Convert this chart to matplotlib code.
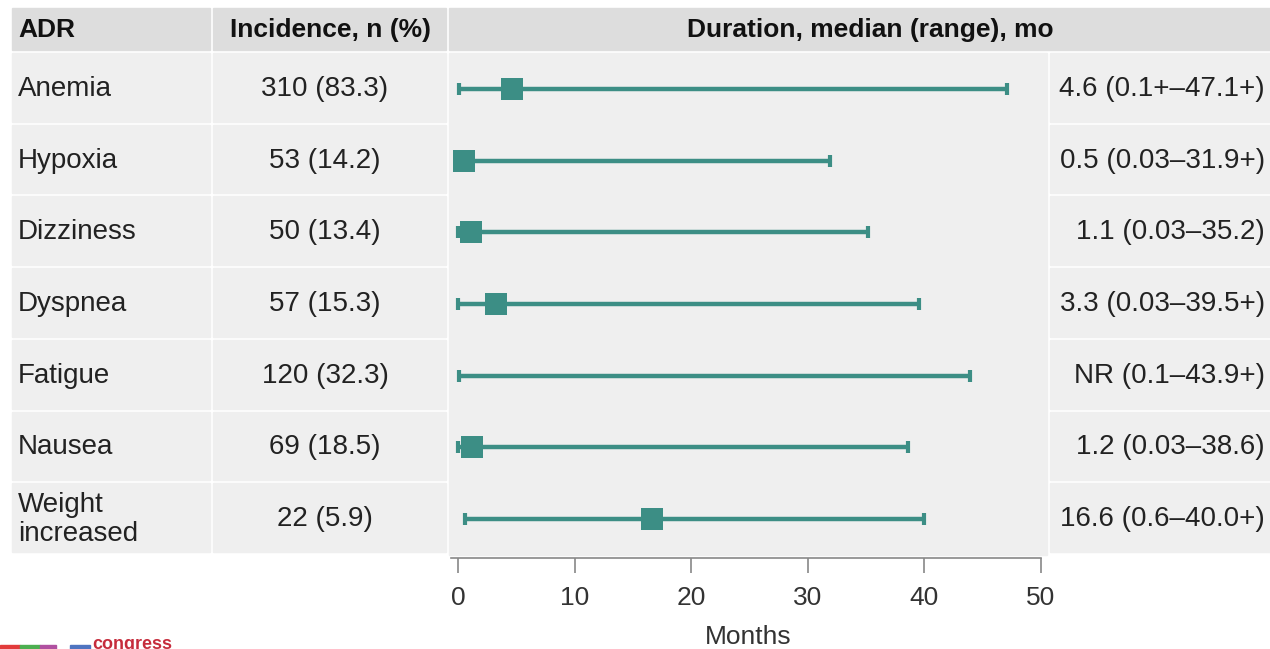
import matplotlib.pyplot as plt
import matplotlib.transforms as mtransforms
from matplotlib.patches import Rectangle
import numpy as np

plt.rcParams['font.family'] = ['Liberation Sans', 'DejaVu Sans']

# ADR duration table
adr_names = ['Anemia', 'Hypoxia', 'Dizziness', 'Dyspnea', 'Fatigue', 'Nausea',
             'Weight\nincreased']
incidence = ['310 (83.3)', '53 (14.2)', '50 (13.4)', '57 (15.3)', '120 (32.3)',
             '69 (18.5)', '22 (5.9)']
median_mo = [4.6, 0.5, 1.1, 3.3, np.nan, 1.2, 16.6]
range_lo = [0.1, 0.03, 0.03, 0.03, 0.1, 0.03, 0.6]
range_hi = [47.1, 31.9, 35.2, 39.5, 43.9, 38.6, 40.0]
duration_labels = ['4.6 (0.1+\u201347.1+)', '0.5 (0.03\u201331.9+)',
                   '1.1 (0.03\u201335.2)', '3.3 (0.03\u201339.5+)',
                   'NR (0.1\u201343.9+)', '1.2 (0.03\u201338.6)',
                   '16.6 (0.6\u201340.0+)']
x_ticks = [0, 10, 20, 30, 40, 50]

W, H = 1270, 649
TEAL = '#3c8e85'
HEAD_BG = '#dddddd'
CELL_BG = '#efefef'
TXT = '#222222'
FS = 19
FS_BODY = 20

fig = plt.figure(figsize=(W / 100, H / 100), dpi=100)


def fx(px):
    return px / W


def fy(py):
    return 1 - py / H


def cell(x0, x1, y0, y1, color):
    # background box in figure pixels, drawn below the axes
    fig.patches.append(Rectangle((fx(x0), fy(y1)), fx(x1) - fx(x0), fy(y0) - fy(y1),
                                 transform=fig.transFigure, color=color, zorder=-1))


# column edges in pixels
c1 = (12, 210)
c2 = (213, 446)
c3 = (449, 1047)
c4 = (1050, 1270)
body_top, body_bot = 53, 555
pitch = (body_bot - body_top) / len(adr_names)

# header
cell(*c1, 8, 50, HEAD_BG)
cell(*c2, 8, 50, HEAD_BG)
cell(c3[0], c4[1], 8, 50, HEAD_BG)
fig.text(fx(18), fy(30), 'ADR', fontsize=FS, fontweight='bold', color='#111111',
         ha='left', va='center')
fig.text(fx(330), fy(30), 'Incidence, n (%)', fontsize=FS, fontweight='bold',
         color='#111111', ha='center', va='center')
fig.text(fx(870), fy(30), 'Duration, median (range), mo', fontsize=FS,
         fontweight='bold', color='#111111', ha='center', va='center')

# body cells, with white gaps between rows
for i in range(len(adr_names)):
    top = body_top + pitch * i
    bot = top + pitch - 3
    cell(*c1, top, bot, CELL_BG)
    cell(*c2, top, bot, CELL_BG)
    cell(*c4, top, bot, CELL_BG)
cell(*c3, body_top, body_bot, CELL_BG)

# forest panel
ax = fig.add_axes([fx(c3[0]), fy(body_bot), fx(c3[1]) - fx(c3[0]),
                   fy(body_top) - fy(body_bot)])
ax.patch.set_alpha(0)
px_per_mo = (1041 - 458) / 50
ax.set_xlim(-(458 - c3[0]) / px_per_mo, (c3[1] - 458) / px_per_mo)
rows = np.arange(1, len(adr_names) + 1)
ax.set_ylim(len(adr_names) + 0.5, 0.5)

ax.hlines(rows, range_lo, range_hi, color=TEAL, lw=3.2, zorder=2)
ax.plot(range_lo, rows, ls='none', marker='|', ms=8.5, mew=3, color=TEAL, zorder=2)
ax.plot(range_hi, rows, ls='none', marker='|', ms=8.5, mew=3, color=TEAL, zorder=2)
ax.plot(median_mo, rows, ls='none', marker='s', ms=16.5, mew=0, color=TEAL, zorder=3)

for s in ['top', 'right', 'left']:
    ax.spines[s].set_visible(False)
ax.spines['bottom'].set_position(('outward', 2))
ax.spines['bottom'].set_bounds(-0.6, 50)
ax.spines['bottom'].set_color('#888888')
ax.spines['bottom'].set_linewidth(1.2)
ax.set_yticks([])
ax.set_xticks(x_ticks)
ax.tick_params(axis='x', direction='out', length=11, width=1.2, color='#888888',
               labelsize=FS, labelcolor='#333333', pad=9)
ax.set_xlabel('Months', fontsize=FS, color='#333333', labelpad=11)

# row text in the table columns, aligned to the panel rows
trans = mtransforms.blended_transform_factory(fig.transFigure, ax.transData)
for r, name, inc, dur in zip(rows, adr_names, incidence, duration_labels):
    ax.text(fx(18), r, name, transform=trans, fontsize=FS_BODY, color=TXT,
            ha='left', va='center', linespacing=1.15)
    ax.text(fx(325), r, inc, transform=trans, fontsize=FS_BODY, color=TXT,
            ha='center', va='center')
    ax.text(fx(1265), r, dur, transform=trans, fontsize=FS_BODY, color=TXT,
            ha='right', va='center')

# congress logo strip, cut off at the bottom edge
for x0, x1, col in [(0, 20, '#e23b3b'), (20, 40, '#4caf50'), (40, 56, '#b050a0'),
                    (70, 90, '#4f74c0')]:
    cell(x0, x1, 645, 652, col)
fig.text(fx(92), fy(636), 'congress', fontsize=13, fontweight='bold',
         color='#c62c3c', ha='left', va='top')

fig.savefig('out.png', dpi=100)
